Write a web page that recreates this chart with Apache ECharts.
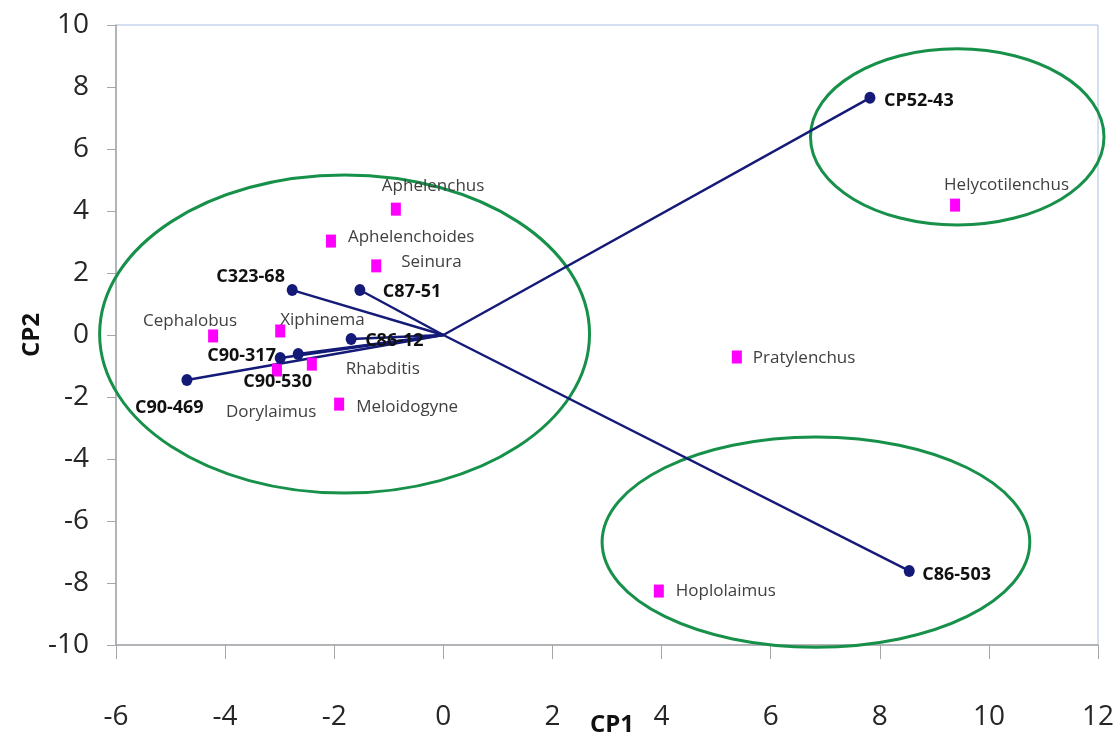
<!DOCTYPE html>
<html>
<head>
<meta charset="utf-8">
<script src="https://cdn.jsdelivr.net/npm/echarts@6/dist/echarts.min.js"></script>
<style>
html,body{margin:0;padding:0;background:#fff;}
#chart{width:1117px;height:744px;}
</style>
</head>
<body>
<div id="chart"></div>
<script>
// ---- Data ----
const vectorNames = ['CP52-43', 'C86-503', 'C323-68', 'C87-51', 'C86-12', 'C90-317', 'C90-530', 'C90-469'];
const vectorCP1 = [7.82, 8.54, -2.77, -1.53, -1.69, -2.99, -2.66, -4.70];
const vectorCP2 = [7.65, -7.61, 1.45, 1.45, -0.13, -0.74, -0.61, -1.45];

const speciesNames = ['Aphelenchus', 'Aphelenchoides', 'Seinura', 'Cephalobus', 'Xiphinema', 'Rhabditis', 'Dorylaimus', 'Meloidogyne', 'Helycotilenchus', 'Pratylenchus', 'Hoplolaimus'];
const speciesCP1 = [-0.87, -2.06, -1.23, -4.22, -2.99, -2.41, -3.05, -1.91, 9.38, 5.38, 3.95];
const speciesCP2 = [4.06, 3.03, 2.23, -0.03, 0.13, -0.94, -1.13, -2.23, 4.19, -0.71, -8.26];

// group ellipses: center (CP1, CP2) and radii in axis units
const ellipseCx = [-1.81, 9.42, 6.83];
const ellipseCy = [0.03, 6.39, -6.68];
const ellipseRx = [4.49, 2.69, 3.92];
const ellipseRy = [5.13, 2.84, 3.39];

const xTicks = {min: -6, max: 12, interval: 2};
const yTicks = {min: -10, max: 10, interval: 2};

// ---- Label placement (style) ----
const vectorLabelOffset = {
  'CP52-43': [14, 3], 'C86-503': [13, 4], 'C323-68': [-76, -13], 'C87-51': [23, 2],
  'C86-12': [14, 2], 'C90-317': [-73, -2], 'C90-530': [-55, 28], 'C90-469': [-52, 28]
};
const speciesLabelOffset = {
  'Aphelenchus': [-14, -23], 'Aphelenchoides': [17, -4], 'Seinura': [25, -4], 'Cephalobus': [-70, -15],
  'Xiphinema': [0, -11], 'Rhabditis': [34, 5], 'Dorylaimus': [-51, 42], 'Meloidogyne': [17, 3],
  'Helycotilenchus': [-11, -20], 'Pratylenchus': [16, 1], 'Hoplolaimus': [17, 0]
};

const FONT = "'Open Sans', sans-serif";
const NAVY = '#141a78';
const PINK = '#ff00ff';
const GREEN = '#17904a';

const vectorLines = vectorNames.map((n, i) => ({coords: [[0, 0], [vectorCP1[i], vectorCP2[i]]]}));
const vectorPoints = vectorNames.map((n, i) => ({
  name: n, value: [vectorCP1[i], vectorCP2[i]],
  label: {offset: vectorLabelOffset[n]}
}));
const speciesPoints = speciesNames.map((n, i) => ({
  name: n, value: [speciesCP1[i], speciesCP2[i]],
  label: {offset: speciesLabelOffset[n]}
}));
const ellipseData = ellipseCx.map((c, i) => [c, ellipseCy[i], ellipseRx[i], ellipseRy[i]]);

const chart = echarts.init(document.getElementById('chart'), null, {renderer: 'canvas'});
chart.setOption({
  backgroundColor: '#ffffff',
  animation: false,
  grid: {left: 116, right: 19, top: 25, bottom: 99, outerBoundsMode: 'none', containLabel: false,
    show: true, borderColor: '#a9bfdf', borderWidth: 1},
  xAxis: {
    type: 'value', min: xTicks.min, max: xTicks.max, interval: xTicks.interval,
    name: 'CP1', nameLocation: 'middle', nameGap: 68, nameMoveOverlap: false,
    nameTextStyle: {fontFamily: FONT, fontSize: 24, fontWeight: 'bold', color: '#111',
      padding: [0, 0, 0, 10]},
    axisLine: {show: true, onZero: false, lineStyle: {color: '#a6a6a6', width: 1.5}},
    axisTick: {show: true, inside: false, length: 14, lineStyle: {color: '#a6a6a6', width: 1}},
    axisLabel: {margin: 58, fontFamily: FONT, fontSize: 28, color: '#262626'},
    splitLine: {show: false}
  },
  yAxis: {
    type: 'value', min: yTicks.min, max: yTicks.max, interval: yTicks.interval,
    name: 'CP2', nameLocation: 'middle', nameGap: 72, nameRotate: 90, nameMoveOverlap: false,
    nameTextStyle: {fontFamily: FONT, fontSize: 24, fontWeight: 'bold', color: '#111'},
    axisLine: {show: true, onZero: false, lineStyle: {color: '#a6a6a6', width: 1.5}},
    axisTick: {show: true, inside: false, length: 9, lineStyle: {color: '#a6a6a6', width: 1}},
    axisLabel: {margin: 27, fontFamily: FONT, fontSize: 28, color: '#262626'},
    splitLine: {show: false}
  },
  series: [
    {
      type: 'custom', name: 'groups', silent: true, clip: false, z: 3,
      data: ellipseData,
      encode: {x: 0, y: 1},
      renderItem: function (params, api) {
        const c = api.coord([api.value(0), api.value(1)]);
        const s = api.size([api.value(2), api.value(3)]);
        return {
          type: 'ellipse',
          shape: {cx: c[0], cy: c[1], rx: s[0], ry: s[1]},
          style: {fill: 'none', stroke: GREEN, lineWidth: 3}
        };
      }
    },
    {
      type: 'lines', coordinateSystem: 'cartesian2d', name: 'vectors', z: 4,
      data: vectorLines,
      lineStyle: {color: NAVY, width: 2.4, opacity: 1}
    },
    {
      type: 'scatter', name: 'species', z: 5,
      symbol: 'rect', symbolSize: [10, 13],
      itemStyle: {color: PINK, opacity: 1},
      data: speciesPoints,
      label: {show: true, position: 'inside', align: 'left', verticalAlign: 'middle',
        formatter: '{b}', fontFamily: FONT, fontSize: 17, color: '#404040'}
    },
    {
      type: 'scatter', name: 'lines', z: 6,
      symbol: 'circle', symbolSize: [11, 12],
      itemStyle: {color: NAVY, opacity: 1},
      data: vectorPoints,
      label: {show: true, position: 'inside', align: 'left', verticalAlign: 'middle',
        formatter: '{b}', fontFamily: FONT, fontSize: 18, fontWeight: 'bold', color: '#111'}
    }
  ]
});
</script>
</body>
</html>
